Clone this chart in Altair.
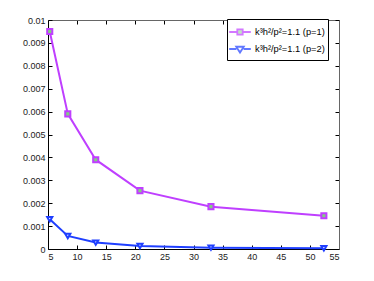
import altair as alt
import pandas as pd

# ---- data ----
x_vals = [5.3, 8.4, 13.2, 20.8, 33.0, 52.4]
p1_vals = [0.0095, 0.0059, 0.0039, 0.00255, 0.00185, 0.00145]
p2_vals = [0.0013, 0.00057, 0.00028, 0.00013, 0.00006, 0.00003]
series = ["k³h²/p²=1.1 (p=1)", "k³h²/p²=1.1 (p=2)"]
x_ticks = [5, 10, 15, 20, 25, 30, 35, 40, 45, 50, 55]
y_ticks = [0, 0.001, 0.002, 0.003, 0.004, 0.005, 0.006, 0.007, 0.008, 0.009, 0.01]

df = pd.DataFrame({
    "x": x_vals + x_vals,
    "y": p1_vals + p2_vals,
    "series": [series[0]] * len(x_vals) + [series[1]] * len(x_vals),
})

W, H = 291, 229
colors = ["#bf3fff", "#1f3fff"]
fills = ["#80d080", "#ffffff"]
FONT = "Liberation Sans"

xs = alt.Scale(domain=[5, 55], nice=False, zero=False)
ys = alt.Scale(domain=[0, 0.01], nice=False, zero=False)

def stroke_enc(legend=None):
    return alt.Stroke("series:N", scale=alt.Scale(domain=series, range=colors), legend=legend)

base = alt.Chart(df)

# lines with labelled left/bottom axes
lines = base.mark_line(strokeWidth=2).encode(
    x=alt.X("x:Q", scale=xs, title=None,
            axis=alt.Axis(orient="bottom", values=x_ticks, ticks=False, domainColor="black",
                          labelPadding=3)),
    y=alt.Y("y:Q", scale=ys, title=None,
            axis=alt.Axis(orient="left", values=y_ticks, ticks=False, domainColor="black",
                          format="~g", labelPadding=3)),
    stroke=stroke_enc(),
)

# markers, with inward ticks on bottom/left
pts = base.mark_point(size=26, strokeWidth=2, opacity=1).encode(
    x=alt.X("x:Q", scale=xs, title=None,
            axis=alt.Axis(orient="top", offset=-H, values=x_ticks, labels=False, domain=False,
                          tickSize=4)),
    y=alt.Y("y:Q", scale=ys, title=None,
            axis=alt.Axis(orient="right", offset=-W, values=y_ticks, labels=False, domain=False,
                          tickSize=4)),
    stroke=stroke_enc(),
    fill=alt.Fill("series:N", scale=alt.Scale(domain=series, range=fills), legend=None),
    shape=alt.Shape("series:N", scale=alt.Scale(domain=series, range=["square", "triangle-down"]),
                    legend=None),
)

sq_path = "M-1.2,0L-0.3,0M0.3,0L1.2,0M-0.3,-0.3L0.3,-0.3L0.3,0.3L-0.3,0.3Z"
tri_path = "M-1.2,0L-0.4,0M0.4,0L1.2,0M-0.42,-0.25L0.42,-0.25L0,0.4Z"

legend = alt.Legend(
    title=None, orient="none", legendX=179, legendY=-1,
    symbolSize=324, symbolStrokeWidth=1.8, labelFont=FONT, labelFontSize=9.3,
    labelColor="black", strokeColor="black", fillColor="white", padding=3,
    rowPadding=-4, labelOffset=5,
)

# frame (top/right with inward ticks) + legend, drawn from an empty selection of data
frame = base.transform_filter("false").mark_point(size=26, strokeWidth=2).encode(
    x=alt.X("x:Q", scale=xs, title=None,
            axis=alt.Axis(orient="bottom", offset=-H, values=x_ticks, labels=False,
                          domainColor="#666", tickSize=4)),
    y=alt.Y("y:Q", scale=ys, title=None,
            axis=alt.Axis(orient="left", offset=-W, values=y_ticks, labels=False,
                          domainColor="#666", tickSize=4)),
    stroke=stroke_enc(legend),
    fill=alt.Fill("series:N", scale=alt.Scale(domain=series, range=fills), legend=legend),
    shape=alt.Shape("series:N", scale=alt.Scale(domain=series, range=[sq_path, tri_path]),
                    legend=legend),
)

chart = alt.layer(lines, pts, frame).resolve_axis(
    x="independent", y="independent"
).resolve_scale(
    stroke="independent", fill="independent", shape="independent"
).properties(
    width=W, height=H,
    autosize=alt.AutoSizeParams(type="none"),
    padding={"left": 40, "top": 12, "right": 10, "bottom": 20},
    background="white",
).configure_view(stroke=None).configure_axis(
    labelFont=FONT, labelFontSize=9, labelColor="#222", grid=False,
    tickColor="black", domainWidth=1, tickWidth=1,
)

chart.save("out.html", embed_options={"renderer": "svg", "actions": False})
